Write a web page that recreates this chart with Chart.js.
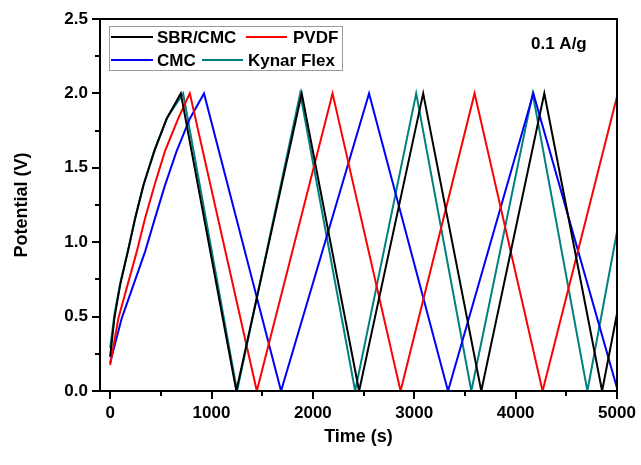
<!DOCTYPE html>
<html>
<head>
<meta charset="utf-8">
<script src="https://cdn.jsdelivr.net/npm/chart.js@4"></script>
<style>
  html, body { margin: 0; padding: 0; background: #fff; }
  #wrap { width: 641px; height: 465px; }
</style>
</head>
<body>
<div id="wrap"><canvas id="gcd"></canvas></div>
<script>
// --- données ---
const seriesNames = ['SBR/CMC', 'PVDF', 'CMC', 'Kynar Flex'];
const seriesColors = ['#000000', '#ff0000', '#0000ff', '#008080'];

const sbrTime = [0, 42, 98, 174, 246, 327, 435, 557, 697, 1245, 1890, 2456, 3088, 3661, 4283, 4853, 5000];
const sbrPot  = [0.23, 0.49, 0.71, 0.935, 1.16, 1.38, 1.61, 1.83, 2.0, 0, 2.0, 0, 2.0, 0, 2.0, 0, 0.52];

const pvdfTime = [0, 82, 262, 344, 436, 540, 671, 786, 1447, 2194, 2865, 3595, 4266, 5000];
const pvdfPot  = [0.175, 0.49, 0.935, 1.16, 1.38, 1.61, 1.83, 2.0, 0, 2.0, 0, 2.0, 0, 1.98];

const cmcTime = [0, 115, 344, 442, 540, 655, 786, 926, 1686, 2554, 3333, 4175, 5000];
const cmcPot  = [0.19, 0.49, 0.935, 1.16, 1.38, 1.61, 1.83, 2.0, 0, 2.0, 0, 2.0, 0.02];

const kynarTime = [0, 46, 104, 181, 254, 335, 443, 566, 720, 1252, 1875, 2417, 3019, 3563, 4168, 4708, 5000];
const kynarPot  = [0.29, 0.53, 0.74, 0.96, 1.18, 1.40, 1.63, 1.84, 2.0, 0, 2.0, 0, 2.0, 0, 2.0, 0, 1.07];

const xMajor = [0, 1000, 2000, 3000, 4000, 5000];
const xMinor = [500, 1500, 2500, 3500, 4500];
const yMajor = [0, 0.5, 1.0, 1.5, 2.0, 2.5];
const yMinor = [0.25, 0.75, 1.25, 1.75, 2.25];

const FONT = "'Liberation Sans', Arial, sans-serif";

const toPoints = (t, v) => t.map((x, i) => ({ x: x, y: v[i] }));
const allSeries = [
  toPoints(sbrTime, sbrPot),
  toPoints(pvdfTime, pvdfPot),
  toPoints(cmcTime, cmcPot),
  toPoints(kynarTime, kynarPot)
];

// cadre, graduations, légende, annotation
const framePlugin = {
  id: 'frame',
  afterDraw(chart) {
    const ctx = chart.ctx;
    const a = chart.chartArea;
    const xs = chart.scales.x, ys = chart.scales.y;
    ctx.save();
    ctx.strokeStyle = '#000';
    ctx.lineWidth = 2;
    ctx.strokeRect(a.left, a.top, a.right - a.left, a.bottom - a.top);

    ctx.beginPath();
    xMajor.forEach(v => { const p = Math.round(xs.getPixelForValue(v)); ctx.moveTo(p, a.bottom); ctx.lineTo(p, a.bottom + 8); });
    xMinor.forEach(v => { const p = Math.round(xs.getPixelForValue(v)); ctx.moveTo(p, a.bottom); ctx.lineTo(p, a.bottom + 5); });
    yMajor.forEach(v => { const p = Math.round(ys.getPixelForValue(v)); ctx.moveTo(a.left, p); ctx.lineTo(a.left - 8, p); });
    yMinor.forEach(v => { const p = Math.round(ys.getPixelForValue(v)); ctx.moveTo(a.left, p); ctx.lineTo(a.left - 5, p); });
    ctx.stroke();

    // légende
    ctx.lineWidth = 1;
    ctx.strokeStyle = '#9a9a9a';
    ctx.strokeRect(109.5, 26.5, 233, 44);
    const items = [
      { line: [111, 153], text: 157, y: 37 },
      { line: [246, 287], text: 293, y: 37 },
      { line: [111, 153], text: 157, y: 60 },
      { line: [202, 243], text: 248, y: 60 }
    ];
    ctx.font = 'bold 17px ' + FONT;
    ctx.textBaseline = 'middle';
    ctx.textAlign = 'left';
    chart.data.datasets.forEach((ds, i) => {
      const it = items[i];
      ctx.strokeStyle = ds.borderColor;
      ctx.lineWidth = 2;
      ctx.beginPath();
      ctx.moveTo(it.line[0], it.y);
      ctx.lineTo(it.line[1], it.y);
      ctx.stroke();
      ctx.fillStyle = '#000';
      ctx.fillText(ds.label, it.text, it.y + 1);
    });

    ctx.fillText('0.1 A/g', 531, 44);
    ctx.restore();
  }
};

const noEdgePadding = s => { s.paddingLeft = 0; s.paddingRight = 0; s.paddingTop = 0; s.paddingBottom = 0; };

new Chart(document.getElementById('gcd'), {
  type: 'line',
  data: {
    datasets: allSeries.map((pts, i) => ({
      label: seriesNames[i],
      data: pts,
      borderColor: seriesColors[i],
      backgroundColor: seriesColors[i],
      borderWidth: 2,
      pointRadius: 0,
      tension: 0,
      fill: false
    }))
  },
  options: {
    responsive: true,
    maintainAspectRatio: false,
    animation: false,
    events: [],
    layout: { padding: { left: 0, top: 19, right: 24, bottom: 0 } },
    plugins: { legend: { display: false }, tooltip: { enabled: false } },
    scales: {
      x: {
        type: 'linear',
        min: -100,
        max: 5000,
        afterBuildTicks: s => { s.ticks = xMajor.map(v => ({ value: v })); },
        afterFit: s => { s.height = 74; noEdgePadding(s); },
        grid: { display: false, drawTicks: false },
        border: { display: false },
        ticks: { color: '#000', padding: 12, maxRotation: 0, callback: v => String(v), font: { family: FONT, size: 17, weight: 'bold' } },
        title: { display: true, text: 'Time (s)', color: '#000', padding: { top: 0, bottom: 17 }, font: { family: FONT, size: 18, weight: 'bold' } }
      },
      y: {
        type: 'linear',
        min: 0,
        max: 2.5,
        afterBuildTicks: s => { s.ticks = yMajor.map(v => ({ value: v })); },
        afterFit: s => { s.width = 100; noEdgePadding(s); },
        grid: { display: false, drawTicks: false },
        border: { display: false },
        ticks: { color: '#000', padding: 12, callback: v => v.toFixed(1), font: { family: FONT, size: 17, weight: 'bold' } },
        title: { display: true, text: 'Potential (V)', color: '#000', padding: { top: 11, bottom: 0 }, font: { family: FONT, size: 18, weight: 'bold' } }
      }
    }
  },
  plugins: [framePlugin]
});
</script>
</body>
</html>
